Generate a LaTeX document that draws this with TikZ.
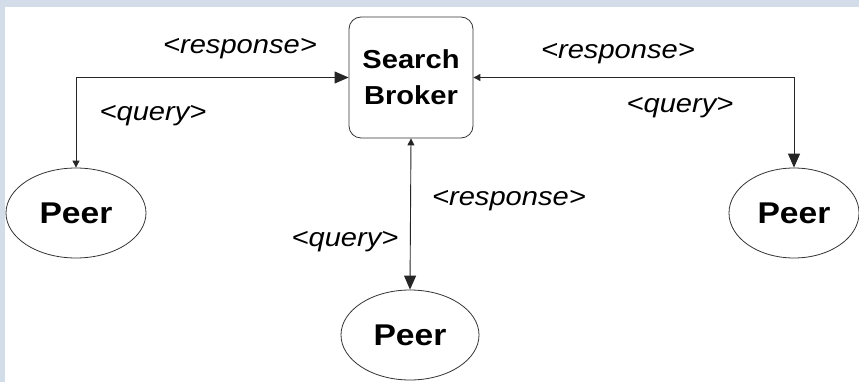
\documentclass[tikz,border=0pt]{standalone}
\usepackage{fontspec}
\newfontfamily\diagfont[FakeStretch=1.12]{Liberation Sans}
\usepackage{tikz}
\usetikzlibrary{shapes.geometric,arrows.meta}
\definecolor{framebg}{RGB}{211,220,233}
\tikzstyle{broker}=[rectangle, rounded corners=12pt, draw=black!80, line width=0.8pt, fill=white, minimum width=124pt, minimum height=121pt, inner sep=0pt, align=center, font=\diagfont\bfseries\fontsize{26}{36}\selectfont]
\tikzstyle{peer}=[ellipse, draw=black!80, line width=0.8pt, fill=white, minimum height=90pt, inner sep=0pt, font=\diagfont\bfseries\fontsize{30}{36}\selectfont]
\tikzstyle{msg}=[anchor=base, inner sep=0pt, font=\diagfont\itshape\fontsize{26}{31}\selectfont]
\tikzstyle{link}=[draw=black!85, line width=0.9pt]

\begin{document}
\begin{tikzpicture}[x=1pt, y=-1pt]
	\fill[framebg] (0,0) rectangle (859,382);
	\fill[white] (5,7) rectangle (859,382);
	\useasboundingbox (0,0) rectangle (859,382);

	\node[broker](broker) at (411,77.5){Search\\Broker};
	\node[peer, minimum width=140pt](peerleft) at (76,213){Peer};
	\node[peer, minimum width=138pt](peermid) at (410,335){Peer};
	\node[peer, minimum width=130pt](peerright) at (794,213){Peer};

	\draw[link, {Triangle[length=7pt,width=7pt]}-{Triangle[length=14pt,width=12pt]}] (peerleft.north) |- (broker.west);
	\draw[link, {Triangle[length=14pt,width=12pt]}-{Triangle[length=7pt,width=7pt]}] (peerright.north) |- (broker.east);
	\draw[link, {Triangle[length=7pt,width=7pt]}-{Triangle[length=14pt,width=12pt]}] (broker.south) -- (peermid.north);

	\node[msg](lresp) at (240,54){<response>};
	\node[msg](lquery) at (153,121){<query>};
	\node[msg](rresp) at (618,59){<response>};
	\node[msg](rquery) at (680,113){<query>};
	\node[msg](mresp) at (509,205){<response>};
	\node[msg](mquery) at (345,246){<query>};
\end{tikzpicture}
\end{document}
